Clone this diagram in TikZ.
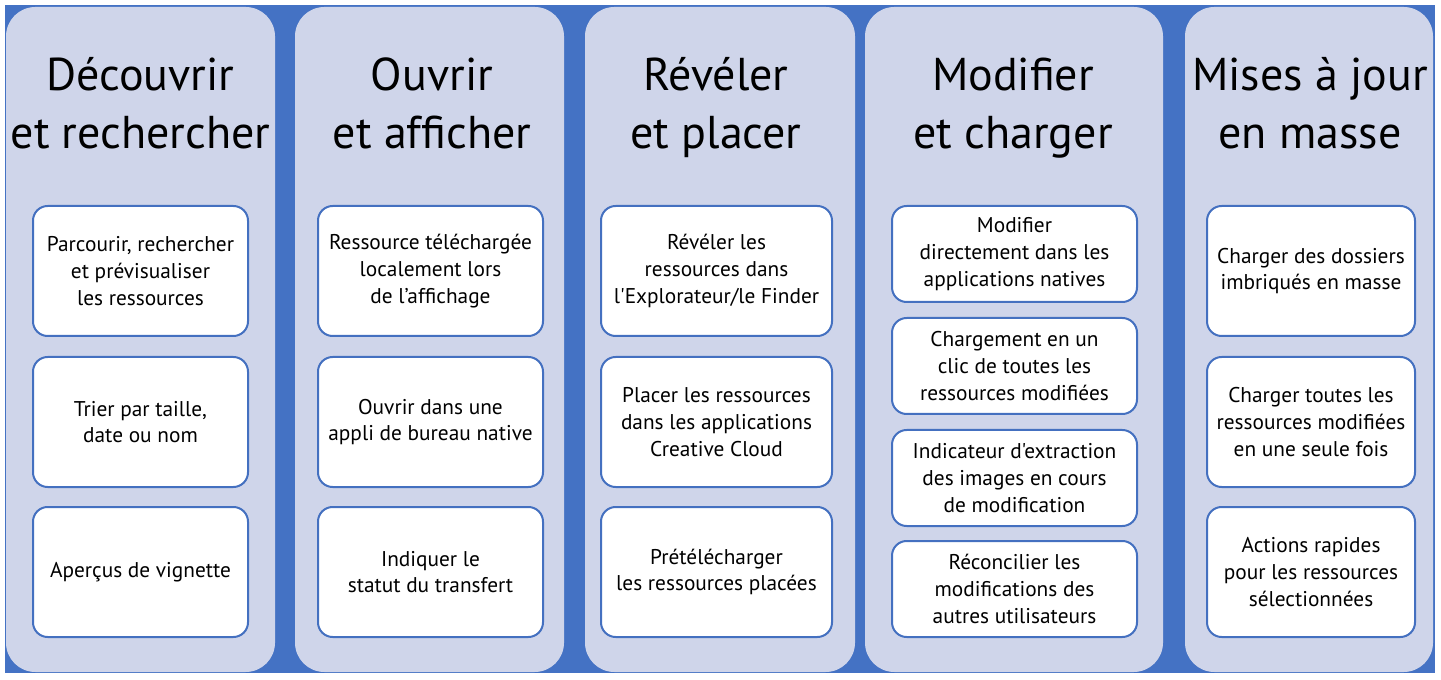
\documentclass[tikz,border=0pt]{standalone}
\usepackage{fontspec}
\setmainfont{PT Sans}[Ligatures=TeXOff]
\definecolor{bgblue}{HTML}{4472C4}
\definecolor{lav}{HTML}{CFD5EA}
\definecolor{edgeblue}{HTML}{4470C0}
\begin{document}
\begin{tikzpicture}[x=0.75pt,y=-0.75pt,
  colbox/.style={fill=lav, draw=none, rounded corners=22pt, minimum height=498.75pt, inner sep=0pt},
  ttl/.style={align=center, inner sep=0pt, font={\fontsize{34.5}{43.5}\selectfont},
              execute at begin node={\strut}, execute at end node={\strut}},
  card/.style={fill=white, draw=edgeblue, line width=1.5pt, rounded corners=11pt, align=center,
               inner xsep=0pt, inner ysep=0pt, font={\fontsize{16}{20}\selectfont}},
  c1/.style={card, minimum width=161.25pt},
  c2/.style={card, minimum width=168.75pt},
  c3/.style={card, minimum width=173.25pt},
  c4/.style={card, minimum width=183.75pt, minimum height=72pt},
  c5/.style={card, minimum width=156pt},
  tall/.style={minimum height=97.5pt}]
\useasboundingbox[fill=white] (0,0) rectangle (1441,680);
\fill[bgblue] (5,5) rectangle (1435,673);
% columns
\node[colbox, minimum width=201.75pt] (col1) at (140.5,339.5) {};
\node[colbox, minimum width=201.75pt] (col2) at (429.5,339.5) {};
\node[colbox, minimum width=202.5pt] (col3) at (720,339.5) {};
\node[colbox, minimum width=223.5pt] (col4) at (1014,339.5) {};
\node[colbox, minimum width=186pt] (col5) at (1309,339.5) {};
% titles
\node[ttl] (t1) at (140.5,112) {Découvrir\\et rechercher};
\node[ttl] (t2) at (432,112) {Ouvrir\\et afficher};
\node[ttl] (t3) at (716,112) {Révéler\\et placer};
\node[ttl] (t4) at (1013,112) {Modifier\\et charger};
\node[ttl] (t5) at (1310,112) {Mises à jour\\en masse};
% column 1
\node[c1, tall] (b11) at (140.5,271) {Parcourir, rechercher\\et prévisualiser\\les ressources};
\node[c1, tall] (b12) at (140.5,422) {Trier par taille,\\date ou nom};
\node[c1, tall] (b13) at (140.5,572) {Aperçus de vignette};
% column 2
\node[c2, tall] (b21) at (430.5,271) {Ressource téléchargée\\localement lors\\de l’affichage};
\node[c2, tall] (b22) at (430.5,422) {Ouvrir dans une\\appli de bureau native};
\node[c2, tall] (b23) at (430.5,572) {Indiquer le\\statut du transfert};
% column 3
\node[c3, tall] (b31) at (716.5,271) {Révéler les\\ressources dans\\l'Explorateur/le Finder};
\node[c3, tall] (b32) at (716.5,422) {Placer les ressources\\dans les applications\\Creative Cloud};
\node[c3, tall] (b33) at (716.5,572) {Prétélécharger\\les ressources placées};
% column 4
\node[c4] (b41) at (1014.5,254) {Modifier\\directement dans les\\applications natives};
\node[c4] (b42) at (1014.5,366) {Chargement en un\\clic de toutes les\\ressources modifiées};
\node[c4] (b43) at (1014.5,478) {Indicateur d'extraction\\des images en cours\\de modification};
\node[c4] (b44) at (1014.5,589) {Réconcilier les\\modifications des\\autres utilisateurs};
% column 5
\node[c5, tall] (b51) at (1311,271) {Charger des dossiers\\imbriqués en masse};
\node[c5, tall] (b52) at (1311,422) {Charger toutes les\\ressources modifiées\\en une seule fois};
\node[c5, tall] (b53) at (1311,572) {Actions rapides\\pour les ressources\\sélectionnées};
\end{tikzpicture}
\end{document}
